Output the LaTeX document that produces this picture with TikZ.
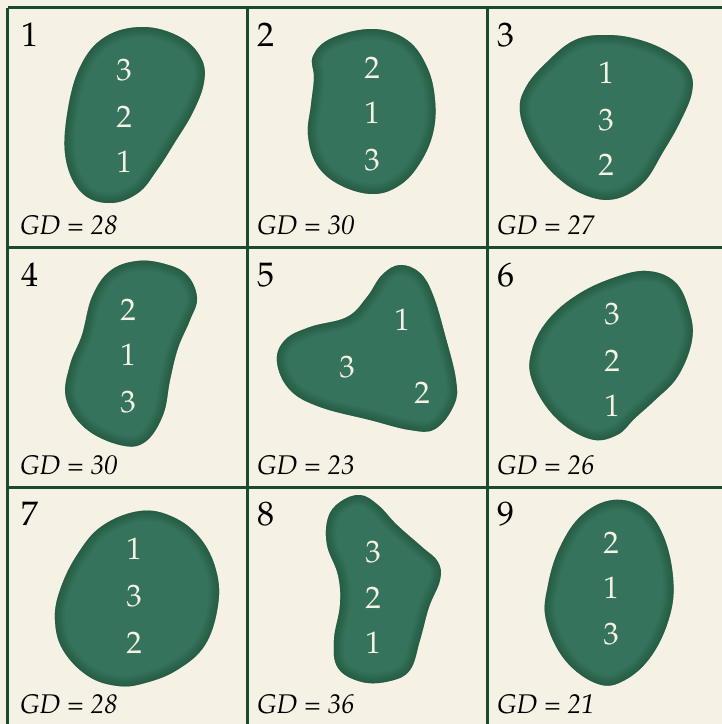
\documentclass[tikz,border=0pt]{standalone}
\usepackage{fontspec}
\newcommand{\palrm}{\fontencoding{OT1}\fontfamily{ppl}\selectfont}
\definecolor{paper}{HTML}{F5F1E4}
\definecolor{gridgreen}{HTML}{1B4A33}
\definecolor{blobgreen}{HTML}{35735C}
\definecolor{blobrim}{HTML}{1D4F37}

% one blob: flat fill, then a soft darker rim on the inside
\newcommand{\drawblob}[1]{%
  \fill[blobfill] plot[smooth cycle, tension=0.65] coordinates {#1};
  \begin{scope}
    \clip plot[smooth cycle, tension=0.65] coordinates {#1};
    \foreach \w in {20,16,13,10,7,4,2}
      \draw[blobedge, line width=\w pt] plot[smooth cycle, tension=0.65] coordinates {#1};
  \end{scope}}

\begin{document}
\begin{tikzpicture}[
    x=1pt, y=-1pt,
    cellno/.style={anchor=base west, inner sep=0pt, font=\palrm\fontsize{34}{34}\selectfont},
    gdlabel/.style={anchor=base west, inner sep=0pt, font=\palrm\itshape\fontsize{27}{27}\selectfont},
    digit/.style={inner sep=0pt, text=paper, font=\palrm\fontsize{31}{31}\selectfont},
    blobfill/.style={fill=blobgreen},
    blobedge/.style={draw=blobrim, opacity=0.11},
    gridline/.style={draw=gridgreen, line width=2.5pt}
]
    \fill[paper] (0,0) rectangle (722,724);
    \useasboundingbox (0,0) rectangle (722,724);

    % cell 1
    \begin{scope}
        \drawblob{(143,27) (180,37) (201,58) (204,82) (193,112) (175,142) (157,170) (138,193) (110,203) (82,193) (66,160) (67,115) (80,67) (105,37)}
        \node[cellno] (no1) at (21,46) {1};
        \node[digit] (d1a) at (124,70) {3};
        \node[digit] (d1b) at (124,117) {2};
        \node[digit] (d1c) at (124,162) {1};
        \node[gdlabel] (gd1) at (20,234) {GD = 28};
    \end{scope}
    % cell 2
    \begin{scope}[shift={(240,0)}]
        \drawblob{(133,29) (167,40) (187,67) (195,100) (193,133) (180,163) (160,185) (133,194) (100,185) (77,165) (68,135) (71,105) (74,78) (73,56) (92,38)}
        \node[cellno] (no2) at (17,46) {2};
        \node[digit] (d2a) at (132,68) {2};
        \node[digit] (d2b) at (132,113) {1};
        \node[digit] (d2c) at (132,160) {3};
        \node[gdlabel] (gd2) at (17,234) {GD = 30};
    \end{scope}
    % cell 3
    \begin{scope}[shift={(480,0)}]
        \drawblob{(127,35) (160,40) (190,53) (209,70) (212,92) (200,122) (183,152) (163,183) (135,199) (105,195) (75,175) (52,145) (40,112) (46,87) (67,62) (95,40)}
        \node[cellno] (no3) at (17,46) {3};
        \node[digit] (d3a) at (126,73) {1};
        \node[digit] (d3b) at (126,120) {3};
        \node[digit] (d3c) at (126,165) {2};
        \node[gdlabel] (gd3) at (17,234) {GD = 27};
    \end{scope}
    % cell 4
    \begin{scope}[shift={(0,240)}]
        \drawblob{(137,21) (165,24) (187,35) (197,58) (190,80) (178,108) (170,140) (163,175) (145,202) (120,205) (85,188) (66,158) (70,125) (82,95) (92,57) (110,31)}
        \node[cellno] (no4) at (21,46) {4};
        \node[digit] (d4a) at (128,70) {2};
        \node[digit] (d4b) at (128,115) {1};
        \node[digit] (d4c) at (128,162) {3};
        \node[gdlabel] (gd4) at (20,234) {GD = 30};
    \end{scope}
    % cell 5
    \begin{scope}[shift={(240,240)}]
        \drawblob{(160,25) (180,33) (193,55) (205,95) (216,140) (214,165) (195,189) (170,190) (130,180) (80,167) (50,150) (37,122) (45,100) (70,87) (107,77) (127,57) (142,35)}
        \node[cellno] (no5) at (17,46) {5};
        \node[digit] (d5a) at (162,80) {1};
        \node[digit] (d5b) at (107,127) {3};
        \node[digit] (d5c) at (182,153) {2};
        \node[gdlabel] (gd5) at (17,234) {GD = 23};
    \end{scope}
    % cell 6
    \begin{scope}[shift={(480,240)}]
        \drawblob{(167,31) (195,42) (209,70) (212,100) (198,136) (175,160) (155,178) (137,195) (110,199) (75,177) (52,140) (52,110) (68,80) (97,55) (133,38)}
        \node[cellno] (no6) at (17,46) {6};
        \node[digit] (d6a) at (132,74) {3};
        \node[digit] (d6b) at (132,121) {2};
        \node[digit] (d6c) at (132,166) {1};
        \node[gdlabel] (gd6) at (17,234) {GD = 26};
    \end{scope}
    % cell 7
    \begin{scope}[shift={(0,480)}]
        \drawblob{(140,31) (173,37) (200,58) (216,90) (218,125) (205,165) (177,190) (145,203) (118,206) (88,196) (63,170) (55,140) (60,110) (77,75) (102,46)}
        \node[cellno] (no7) at (21,45) {7};
        \node[digit] (d7a) at (134,69) {1};
        \node[digit] (d7b) at (134,116) {3};
        \node[digit] (d7c) at (134,163) {2};
        \node[gdlabel] (gd7) at (20,233) {GD = 28};
    \end{scope}
    % cell 8
    \begin{scope}[shift={(240,480)}]
        \drawblob{(120,15) (138,25) (157,45) (182,67) (198,82) (200,100) (189,127) (180,160) (170,190) (150,201) (122,202) (98,188) (94,160) (100,125) (98,95) (87,65) (88,38) (100,22)}
        \node[cellno] (no8) at (17,45) {8};
        \node[digit] (d8a) at (133,72) {3};
        \node[digit] (d8b) at (133,118) {2};
        \node[digit] (d8c) at (133,163) {1};
        \node[gdlabel] (gd8) at (17,233) {GD = 36};
    \end{scope}
    % cell 9
    \begin{scope}[shift={(480,480)}]
        \drawblob{(133,20) (163,28) (183,55) (193,97) (190,135) (172,175) (145,200) (118,204) (85,180) (66,140) (68,105) (80,67) (102,35)}
        \node[cellno] (no9) at (17,45) {9};
        \node[digit] (d9a) at (131,63) {2};
        \node[digit] (d9b) at (131,108) {1};
        \node[digit] (d9c) at (131,154) {3};
        \node[gdlabel] (gd9) at (17,233) {GD = 21};
    \end{scope}

    % grid, running off the right and bottom edges
    \foreach \k in {0,1,2,3} {
        \draw[gridline] (7.5+240*\k,7.5) -- (7.5+240*\k,727.5);
        \draw[gridline] (7.5,7.5+240*\k) -- (727.5,7.5+240*\k);
    }
\end{tikzpicture}
\end{document}
